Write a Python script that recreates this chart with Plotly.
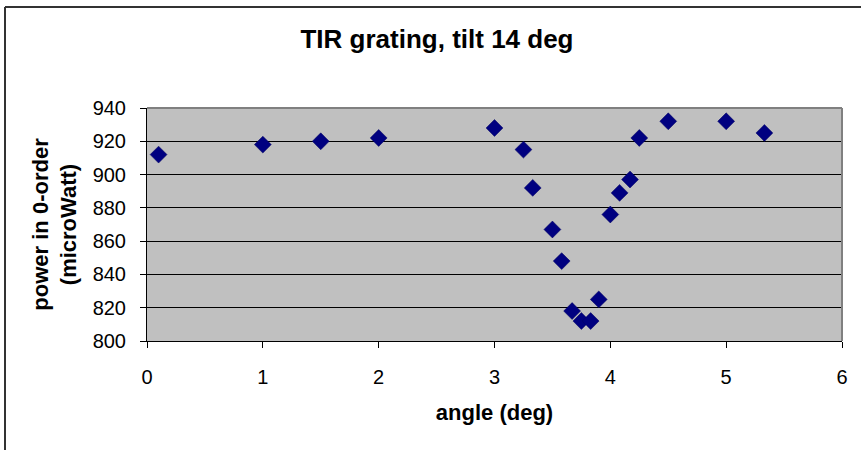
import plotly.graph_objects as go

angle_deg = [0.1, 1.0, 1.5, 2.0, 3.0, 3.25, 3.33, 3.5, 3.58, 3.67, 3.75, 3.83, 3.9, 4.0, 4.08, 4.17, 4.25, 4.5, 5.0, 5.33]
power_uW = [912, 918, 920, 922, 928, 915, 892, 867, 848, 818, 812, 812, 825, 876, 889, 897, 922, 932, 932, 925]

x_ticks = [0, 1, 2, 3, 4, 5, 6]
y_ticks = [800, 820, 840, 860, 880, 900, 920, 940]

W, H = 861, 450
L, R, T, B = 147, 19, 108, 109
pw, ph = W - L - R, H - T - B

FONT = "Liberation Sans, Arial, sans-serif"

fig = go.Figure()
fig.add_trace(go.Scatter(
    x=angle_deg, y=power_uW, mode="markers",
    marker=dict(symbol="diamond", size=13, color="#000080",
                line=dict(width=0.5, color="#000060")),
    showlegend=False, cliponaxis=False,
))

fig.update_layout(
    width=W, height=H,
    margin=dict(l=L, r=R, t=T, b=B, pad=0),
    paper_bgcolor="white",
    plot_bgcolor="#C0C0C0",
    font=dict(family=FONT, size=20, color="black"),
    title=dict(text="<b>TIR grating, tilt 14 deg</b>", font=dict(size=26),
               x=437 / W, xref="container", xanchor="center",
               y=1 - 39 / H, yref="container", yanchor="middle"),
    xaxis=dict(range=[0, 6], tickvals=x_ticks, ticktext=[str(v) for v in x_ticks],
               showgrid=False, zeroline=False,
               showline=True, linecolor="black", linewidth=1,
               ticks="outside", ticklen=6, tickcolor="black",
               ticklabelstandoff=12,
               title=dict(text="<b>angle (deg)</b>", font=dict(size=22), standoff=17)),
    yaxis=dict(range=[800, 940], tickvals=y_ticks, ticktext=[str(v) for v in y_ticks],
               showgrid=True, gridcolor="black", gridwidth=1, zeroline=False,
               showline=True, linecolor="black", linewidth=1,
               ticks="outside", ticklen=6, tickcolor="black",
               ticklabelstandoff=10,
               title=dict(text="<b>power in 0-order<br>(microWatt)</b>", font=dict(size=22), standoff=9)),
    shapes=[
        # plot area gray border (top and right)
        dict(type="line", xref="paper", yref="paper", x0=0, x1=1, y0=1, y1=1,
             line=dict(color="#808080", width=2), layer="above"),
        dict(type="line", xref="paper", yref="paper", x0=1, x1=1, y0=0, y1=1,
             line=dict(color="#808080", width=2), layer="above"),
        # chart outer frame (top and left)
        dict(type="line", xref="paper", yref="paper",
             x0=(5 - L) / pw, x1=(W + 5 - L) / pw,
             y0=(H - B - 7) / ph, y1=(H - B - 7) / ph,
             line=dict(color="#333333", width=2)),
        dict(type="line", xref="paper", yref="paper",
             x0=(5 - L) / pw, x1=(5 - L) / pw,
             y0=(H - B - 7) / ph, y1=-(B + 10) / ph,
             line=dict(color="#333333", width=2)),
    ],
)

fig.write_html("out.html")
